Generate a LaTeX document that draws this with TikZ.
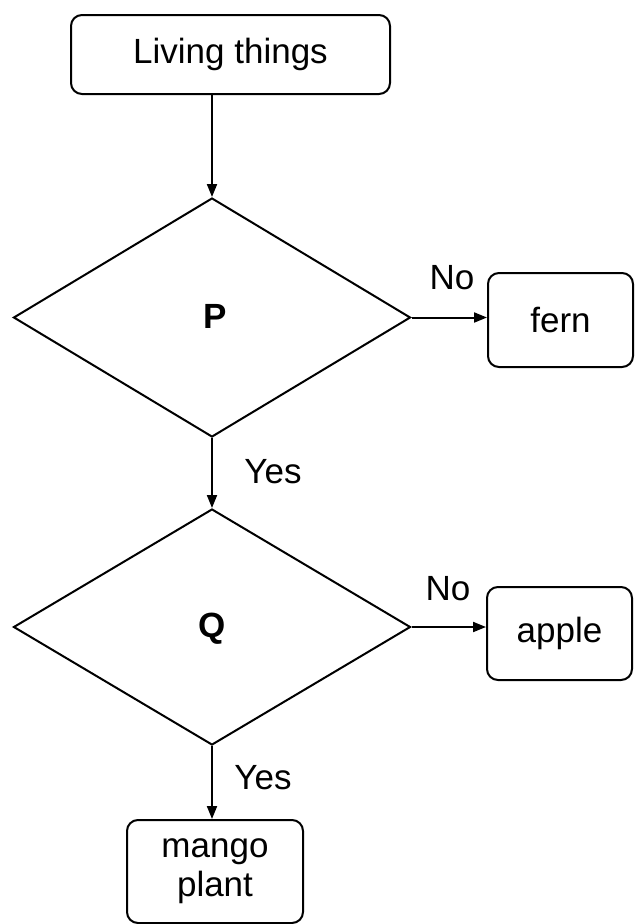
\documentclass[tikz,border=0pt]{standalone}
\usepackage{fontspec}
\setmainfont{Liberation Sans}
\usetikzlibrary{shapes.geometric,arrows.meta}
\begin{document}
\begin{tikzpicture}[x=1pt,y=-1pt,
  line width=2pt,
  txt/.style={font=\fontsize{35}{39}\selectfont},
  boxnode/.style={draw, rounded corners=11pt, inner sep=0pt, align=center, txt},
  decision/.style={draw, diamond, inner sep=0pt, font=\fontsize{35}{39}\selectfont\bfseries},
  arr/.style={-{Triangle[length=13pt,width=10pt]}},
  lbl/.style={inner sep=0pt, txt}]
\useasboundingbox (0,0) rectangle (635,924);
\fill[white] (0,0) rectangle (635,924);
\node[boxnode, minimum width=319pt, minimum height=79pt] (living) at (230.5,54.5) {Living things};
\node[decision, minimum width=397pt, minimum height=239pt] (P) at (212,317.5) {};
\node[inner sep=0pt, font=\fontsize{35}{39}\selectfont\bfseries] (Ptxt) at (215,316) {P};
\node[boxnode, minimum width=145pt, minimum height=94pt] (fern) at (560.5,320) {fern};
\node[decision, minimum width=397pt, minimum height=236pt] (Q) at (212,627) {};
\node[inner sep=0pt, font=\fontsize{35}{39}\selectfont\bfseries] (Qtxt) at (212,629) {Q};
\node[boxnode, minimum width=145pt, minimum height=93pt] (apple) at (559.5,633.5) {apple};
\node[boxnode, minimum width=176pt, minimum height=103pt] (mango) at (215,871.5) {mango\\plant};
\draw[arr] (P.north |- living.south) -- (P.north);
\draw[arr] (P.east) -- (P.east -| fern.west);
\draw[arr] (P.south) -- (Q.north);
\draw[arr] (Q.east) -- (Q.east -| apple.west);
\draw[arr] (Q.south) -- (Q.south |- mango.north);
\node[lbl] (no1) at (452,278) {No};
\node[lbl] (yes1) at (273,472) {Yes};
\node[lbl] (no2) at (448,589) {No};
\node[lbl] (yes2) at (263,778) {Yes};
\end{tikzpicture}
\end{document}
